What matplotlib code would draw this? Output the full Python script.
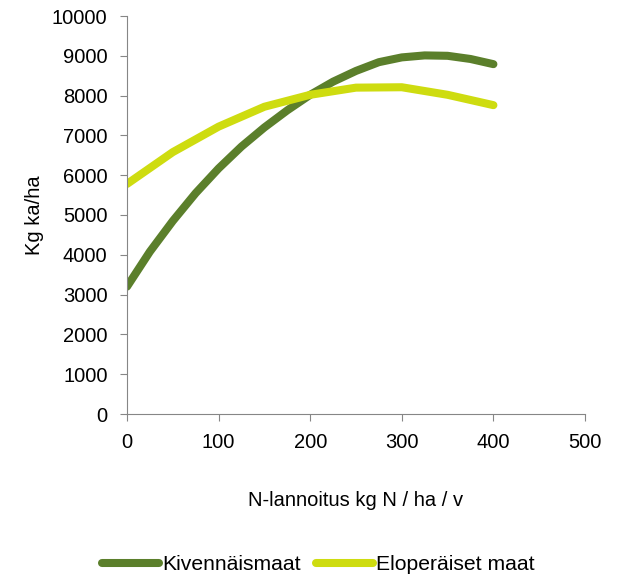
import matplotlib.pyplot as plt

plt.rcParams['font.family'] = ['Liberation Sans', 'DejaVu Sans']

# typpilannoitus ja sato
n_kiv = [0, 25, 50, 75, 100, 125, 150, 175, 200, 225, 250, 275, 300, 325, 350, 375, 400]
sato_kiv = [3200, 4080, 4850, 5550, 6170, 6720, 7200, 7630, 8020, 8350, 8620, 8840, 8960, 9010, 9000, 8920, 8790]
n_elo = [0, 50, 100, 150, 200, 250, 300, 350, 400]
sato_elo = [5780, 6580, 7220, 7720, 8020, 8200, 8210, 8020, 7760]

fig = plt.figure(figsize=(6.17, 5.74), dpi=100)
ax = fig.add_axes([127/617, 1-414/574, (585-127)/617, (414-16)/574])

ax.plot(n_kiv, sato_kiv, color='#5b7f2b', lw=5.8, solid_capstyle='round', label='Kivennäismaat')
ax.plot(n_elo, sato_elo, color='#cedc10', lw=5.8, solid_capstyle='round', label='Eloperäiset maat')

ax.set_xlim(0, 500)
ax.set_ylim(0, 10000)
ax.set_xticks(range(0, 501, 100))
ax.set_yticks(range(0, 10001, 1000))
for s in ['top', 'right']:
    ax.spines[s].set_visible(False)
for s in ['left', 'bottom']:
    ax.spines[s].set_color('#868686')
ax.tick_params(direction='out', length=5, color='#868686', labelsize=14.5)
ax.tick_params(axis='y', pad=9)
ax.tick_params(axis='x', pad=9)

ax.set_xlabel('N-lannoitus kg N / ha / v', fontsize=14.5, labelpad=28)
ax.set_ylabel('Kg ka/ha', fontsize=14.5, labelpad=6)

fig.legend(loc='center', bbox_to_anchor=(0.516, 1-565/574), ncol=2, frameon=False,
           fontsize=15.2, handlelength=2.7, handletextpad=0.15, columnspacing=0.7,
           borderaxespad=0, borderpad=0)

fig.savefig('out.png', dpi=100)
